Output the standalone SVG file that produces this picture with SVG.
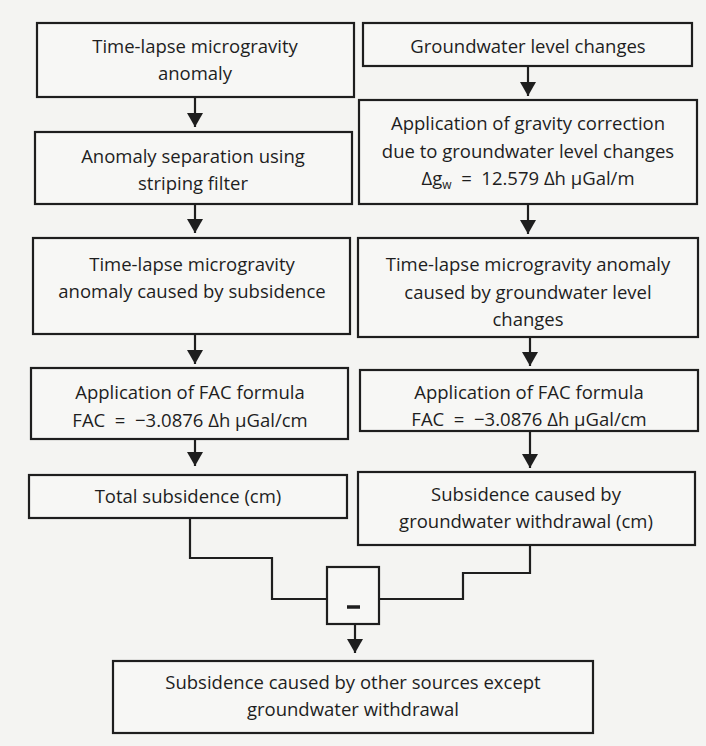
<svg xmlns="http://www.w3.org/2000/svg" width="706" height="746" viewBox="0 0 706 746">
<defs>
<style>
.box{fill:#f7f7f5;stroke:#1e1e1e;stroke-width:2.2}
.t{font-family:"Open Sans","Liberation Sans",sans-serif;font-size:18.5px;fill:#1e1e1e;text-anchor:middle}
.ln{fill:none;stroke:#1e1e1e;stroke-width:2.2}
</style>
<marker id="ah" markerWidth="14" markerHeight="16" refX="14" refY="8" orient="auto" markerUnits="userSpaceOnUse" viewBox="0 0 14 16">
<path d="M0,0 L14,8 L0,16 z" fill="#1e1e1e"/>
</marker>
</defs>
<rect width="706" height="746" fill="#f4f4f2"/>
<g id="connectors">
<path class="ln" d="M195,97 V127" marker-end="url(#ah)"/>
<path class="ln" d="M195,204 V233" marker-end="url(#ah)"/>
<path class="ln" d="M195,334 V364" marker-end="url(#ah)"/>
<path class="ln" d="M195,439 V466" marker-end="url(#ah)"/>
<path class="ln" d="M528,66 V96" marker-end="url(#ah)"/>
<path class="ln" d="M528,204 V234" marker-end="url(#ah)"/>
<path class="ln" d="M530,337 V366" marker-end="url(#ah)"/>
<path class="ln" d="M530,431 V468" marker-end="url(#ah)"/>
<path class="ln" d="M190,518 V558 H272 V599 H327"/>
<path class="ln" d="M530,545 V573 H463 V599 H379"/>
<path class="ln" d="M355,624 V653" marker-end="url(#ah)"/>
</g>
<g id="n1"><rect class="box" x="37" y="23" width="317" height="74"/>
<text class="t" x="195" y="53">Time-lapse microgravity</text>
<text class="t" x="195" y="80">anomaly</text></g>
<g id="n2"><rect class="box" x="35" y="132" width="317" height="72"/>
<text class="t" x="193" y="163">Anomaly separation using</text>
<text class="t" x="193" y="190">striping filter</text></g>
<g id="n3"><rect class="box" x="33" y="238" width="317" height="96"/>
<text class="t" x="192" y="271">Time-lapse microgravity</text>
<text class="t" x="192" y="298">anomaly caused by subsidence</text></g>
<g id="n4"><rect class="box" x="31" y="368" width="317" height="71"/>
<text class="t" x="190" y="399">Application of FAC formula</text>
<text class="t" x="190" y="427" xml:space="preserve">FAC  =  −3.0876 Δh μGal/cm</text></g>
<g id="n5"><rect class="box" x="29" y="475" width="318" height="43"/>
<text class="t" x="188" y="503">Total subsidence (cm)</text></g>
<g id="r1"><rect class="box" x="363" y="23" width="329" height="43"/>
<text class="t" x="528" y="53">Groundwater level changes</text></g>
<g id="r2"><rect class="box" x="359" y="100" width="338" height="104"/>
<text class="t" x="528" y="130">Application of gravity correction</text>
<text class="t" x="528" y="158">due to groundwater level changes</text>
<text class="t" x="528" y="185" xml:space="preserve">Δg<tspan font-size="12" dy="4">w</tspan><tspan dy="-4">  =  12.579 Δh μGal/m</tspan></text></g>
<g id="r3"><rect class="box" x="358" y="238" width="340" height="99"/>
<text class="t" x="528" y="271">Time-lapse microgravity anomaly</text>
<text class="t" x="528" y="299">caused by groundwater level</text>
<text class="t" x="528" y="326">changes</text></g>
<g id="r4"><rect class="box" x="360" y="370" width="338" height="61"/>
<text class="t" x="529" y="399">Application of FAC formula</text>
<text class="t" x="529" y="426" xml:space="preserve">FAC  =  −3.0876 Δh μGal/cm</text></g>
<g id="r5"><rect class="box" x="358" y="472" width="337" height="73"/>
<text class="t" x="526" y="501">Subsidence caused by</text>
<text class="t" x="526" y="528">groundwater withdrawal (cm)</text></g>
<g id="minus"><rect class="box" x="327" y="567" width="52" height="57"/>
<line x1="347" y1="607" x2="360" y2="607" stroke="#1e1e1e" stroke-width="3.5"/></g>
<g id="b1"><rect class="box" x="113" y="661" width="480" height="72"/>
<text class="t" x="353" y="689">Subsidence caused by other sources except</text>
<text class="t" x="353" y="716">groundwater withdrawal</text></g>
</svg>
